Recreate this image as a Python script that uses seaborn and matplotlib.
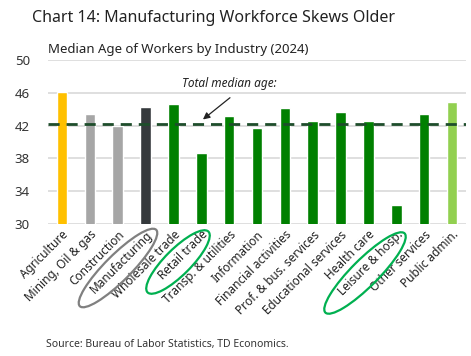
import matplotlib
matplotlib.use("Agg")
import matplotlib.pyplot as plt
import seaborn as sns
import pandas as pd
from matplotlib.patches import Ellipse

industries = ["Agriculture", "Mining, Oil & gas", "Construction", "Manufacturing",
              "Wholesale trade", "Retail trade", "Transp. & utilities", "Information",
              "Financial activities", "Prof. & bus. services", "Educational services",
              "Health care", "Leisure & hosp.", "Other services", "Public admin."]
median_age = [46.1, 43.4, 42.0, 44.3, 44.6, 38.7, 43.2, 41.7, 44.1, 42.6, 43.7, 42.5, 32.3, 43.4, 44.9]
total_median = 42.2
bar_colors = ["#FFC000", "#A6A6A6", "#A6A6A6", "#35393C", "#008000", "#008000", "#008000",
              "#008000", "#008000", "#008000", "#008000", "#008000", "#008000", "#008000", "#92D050"]
yticks = [30, 34, 38, 42, 46, 50]

sns.set_theme(style="white")
plt.rcParams['font.family'] = ['Noto Sans', 'DejaVu Sans']

df = pd.DataFrame({"industry": industries, "age": median_age})

fig = plt.figure(figsize=(4.71, 3.56), dpi=100)
ax = fig.add_axes([48/471, 1-224/356, 418/471, 164/356])

sns.barplot(data=df, x="industry", y="age", hue="industry", palette=bar_colors,
            legend=False, width=0.38, ax=ax, zorder=3, saturation=1)

ax.set_ylim(30, 50)
ax.set_xlim(-0.5, len(industries) - 0.5)
ax.set_yticks(yticks)
ax.yaxis.grid(True, color="#D9D9D9", linewidth=1.2, zorder=0)
ax.set_axisbelow(True)
for s in ax.spines.values():
    s.set_visible(False)
ax.set_xlabel("")
ax.set_ylabel("")
ax.tick_params(axis="y", length=0, pad=13, labelsize=9.5, labelcolor="#333333")
ax.tick_params(axis="x", length=0, pad=3, labelsize=8.5, labelcolor="#222222")
ax.set_xticks(range(len(industries)))
ax.set_xticklabels(industries, rotation=45, ha="right", rotation_mode="anchor")

ax.axhline(total_median, color="#1E4D2B", linestyle=(0, (4, 2.5)), linewidth=2, zorder=4)

ax.text(6.0, 46.3, "Total median age:", ha="center", va="bottom", fontsize=8.5,
        style="italic", color="#222222")
ax.annotate("", xy=(5.06, 42.75), xytext=(6.03, 45.4), textcoords="data",
            arrowprops=dict(arrowstyle="-|>", color="#222222", lw=0.9, mutation_scale=10,
                            shrinkA=0, shrinkB=0))

fig.text(32/471, 1-18/356, "Chart 14: Manufacturing Workforce Skews Older",
         fontsize=11.5, color="#222222", va="center", ha="left")
fig.text(48/471, 1-50/356, "Median Age of Workers by Industry (2024)",
         fontsize=9.5, color="#222222", va="center", ha="left")
fig.text(46/471, 1-344/356, "Source: Bureau of Labor Statistics, TD Economics.",
         fontsize=7.5, color="#333333", va="center", ha="left")

def add_ellipse(cx, cy, w, h, color):
    e = Ellipse((cx/100, (356-cy)/100), w/100, h/100, angle=45,
                transform=fig.dpi_scale_trans, fill=False, edgecolor=color, linewidth=1.6)
    fig.add_artist(e)

add_ellipse(118, 268, 108, 26, "#808080")
add_ellipse(178, 262, 86, 26, "#00B050")
add_ellipse(365, 273, 112, 27, "#00B050")

fig.savefig("out.png", dpi=100)
